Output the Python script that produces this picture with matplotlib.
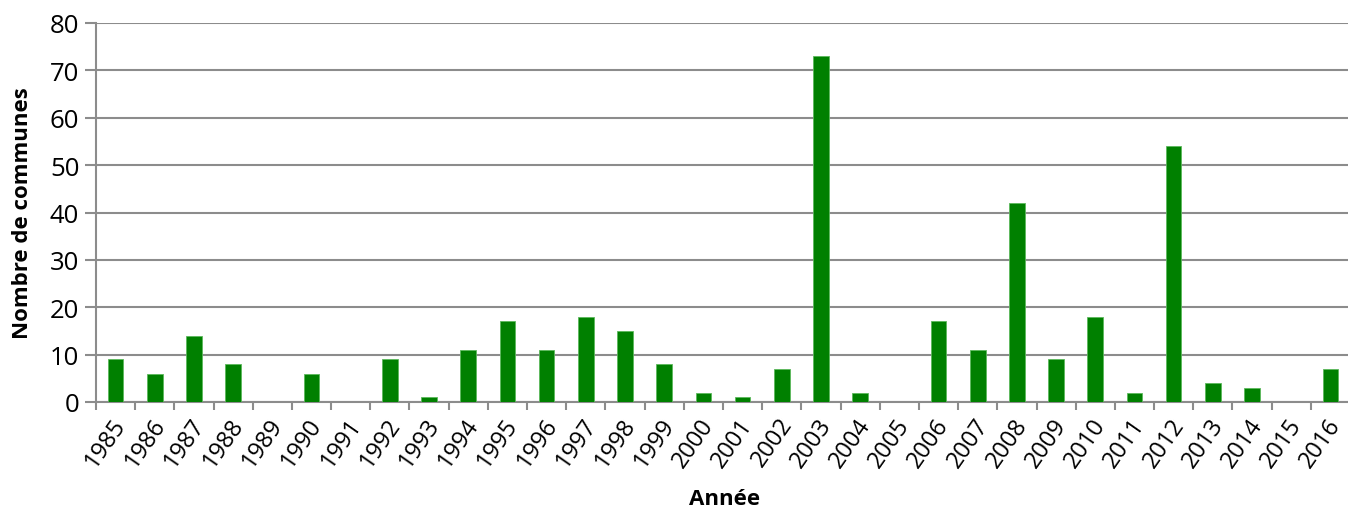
import matplotlib.pyplot as plt
import matplotlib.transforms as mtransforms
import numpy as np

plt.rcParams['font.family'] = ['Open Sans', 'DejaVu Sans']

years = [str(y) for y in range(1985, 2017)]
communes = [9, 6, 14, 8, 0, 6, 0, 9, 1, 11, 17, 11, 18, 15, 8, 2,
            1, 7, 73, 2, 0, 17, 11, 42, 9, 18, 2, 54, 4, 3, 0, 7]
yticks = list(range(0, 81, 10))

fig = plt.figure(figsize=(13.48, 5.10), dpi=100)
# plot area runs slightly past the right edge of the figure
ax = fig.add_axes([96 / 1348, 107 / 510, 1254 / 1348, 379 / 510])

x = np.arange(len(years))
ax.bar(x, communes, width=0.4, color='#008000', edgecolor='#5cb85c',
       linewidth=0.6, zorder=3)

ax.set_xlim(-0.5, len(years) - 0.5)
ax.set_ylim(0, 80)
ax.set_yticks(yticks)
ax.yaxis.grid(True, color='#8c8c8c', linewidth=1.5, zorder=0)

# ticks between categories, labels at centres
ax.set_xticks(np.arange(len(years) + 1) - 0.5)
ax.set_xticklabels([])
ax.set_xticks(x, minor=True)
ax.set_xticklabels(years, minor=True, rotation=55, ha='right',
                   rotation_mode='anchor', fontsize=17)
ax.tick_params(axis='x', which='minor', length=0, pad=8)
ax.tick_params(axis='x', which='major', length=6, width=1.5, color='#8c8c8c')
ax.tick_params(axis='y', length=8, width=1.5, color='#8c8c8c',
               labelsize=18.5, pad=4)

# nudge the rotated year labels a little to the left
shift = mtransforms.ScaledTranslation(-4 / 100, 0, fig.dpi_scale_trans)
for lbl in ax.get_xticklabels(minor=True):
    lbl.set_transform(lbl.get_transform() + shift)

for side in ['top', 'right']:
    ax.spines[side].set_visible(False)
for side in ['left', 'bottom']:
    ax.spines[side].set_color('#8c8c8c')
    ax.spines[side].set_linewidth(1.5)

ax.set_ylabel('Nombre de communes', fontsize=16, fontweight='bold')
ax.yaxis.set_label_coords(-63 / 1254, 0.5)
ax.set_xlabel('Année', fontsize=16, fontweight='bold')
ax.xaxis.set_label_coords(0.5 - (96 + 627 - 725) / 1254, -86 / 379)

fig.savefig('out.png', dpi=100)
